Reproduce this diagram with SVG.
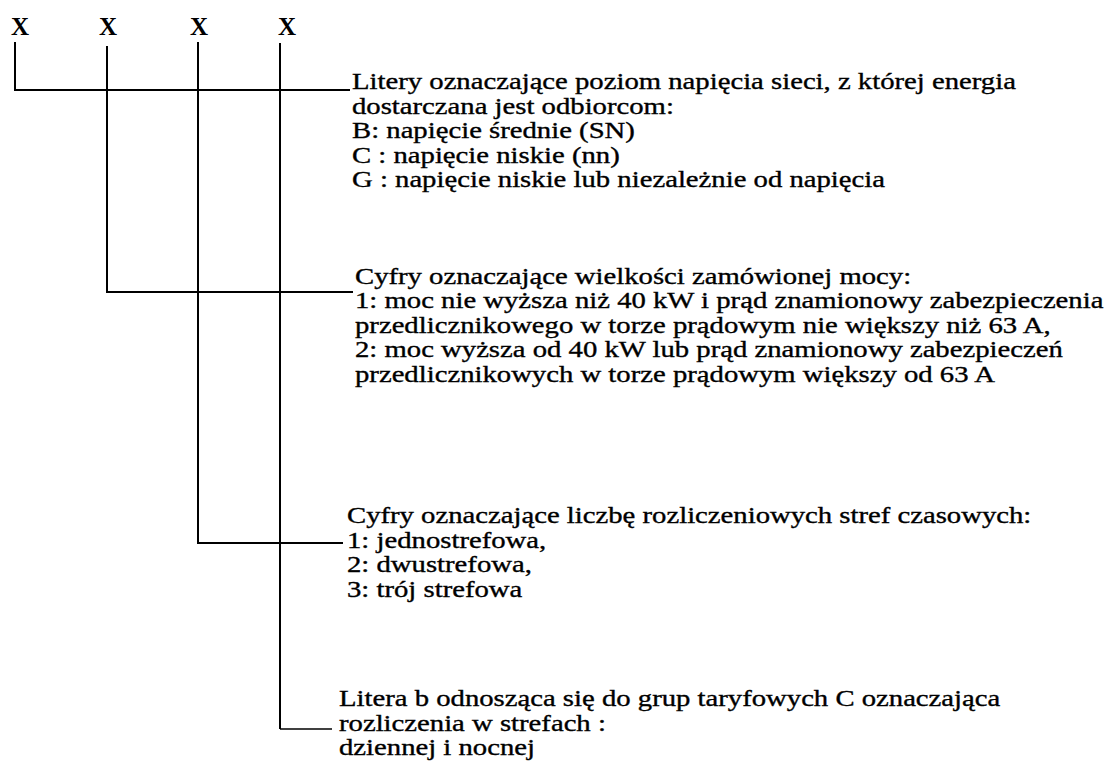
<svg xmlns="http://www.w3.org/2000/svg" width="1106" height="784" viewBox="0 0 1106 784">
<style>
.x{font-family:"Liberation Serif","Times New Roman",serif;font-size:25px;font-weight:bold;fill:#000;text-anchor:middle}
.t{font-family:"Liberation Serif","Times New Roman",serif;font-size:23px;fill:#000;stroke:#000;stroke-width:0.35}
.ln{stroke:#000;stroke-width:2;fill:none}
.thin{stroke:#000;stroke-width:1.5;fill:none}
</style>
<rect width="1106" height="784" fill="#fff"/>
<g id="x1"><text class="x" x="20" y="35">X</text></g>
<g id="x2"><text class="x" x="108" y="35">X</text></g>
<g id="x3"><text class="x" x="199" y="35">X</text></g>
<g id="x4"><text class="x" x="287" y="35">X</text></g>
<g id="connectors">
<path class="ln" d="M15,42 V90 H350"/>
<path class="ln" d="M107,46 V292 H353"/>
<path class="ln" d="M198,42 V543 H343"/>
<path class="ln" d="M280,43 V729"/>
<path class="thin" d="M280,729 H332"/>
</g>
<g id="label1" transform="translate(352,0) scale(1.248,1)">
<text class="t" x="0" y="89">Litery oznaczające poziom napięcia sieci, z której energia</text>
<text class="t" x="0" y="114">dostarczana jest odbiorcom:</text>
<text class="t" x="0" y="138">B: napięcie średnie (SN)</text>
<text class="t" x="0" y="163">C : napięcie niskie (nn)</text>
<text class="t" x="0" y="187">G : napięcie niskie lub niezależnie od napięcia</text>
</g>
<g id="label2" transform="translate(355,0) scale(1.248,1)">
<text class="t" x="0" y="284">Cyfry oznaczające wielkości zamówionej mocy:</text>
<text class="t" x="0" y="308">1: moc nie wyższa niż 40 kW i prąd znamionowy zabezpieczenia</text>
<text class="t" x="0" y="333">przedlicznikowego w torze prądowym nie większy niż 63 A,</text>
<text class="t" x="0" y="357">2: moc wyższa od 40 kW lub prąd znamionowy zabezpieczeń</text>
<text class="t" x="0" y="382">przedlicznikowych w torze prądowym większy od 63 A</text>
</g>
<g id="label3" transform="translate(347,0) scale(1.248,1)">
<text class="t" x="0" y="523">Cyfry oznaczające liczbę rozliczeniowych stref czasowych:</text>
<text class="t" x="0" y="548">1: jednostrefowa,</text>
<text class="t" x="0" y="572">2: dwustrefowa,</text>
<text class="t" x="0" y="597">3: trój strefowa</text>
</g>
<g id="label4" transform="translate(339,0) scale(1.248,1)">
<text class="t" x="0" y="706">Litera b odnosząca się do grup taryfowych C oznaczająca</text>
<text class="t" x="0" y="731">rozliczenia w strefach :</text>
<text class="t" x="0" y="755">dziennej i nocnej</text>
</g>
</svg>
